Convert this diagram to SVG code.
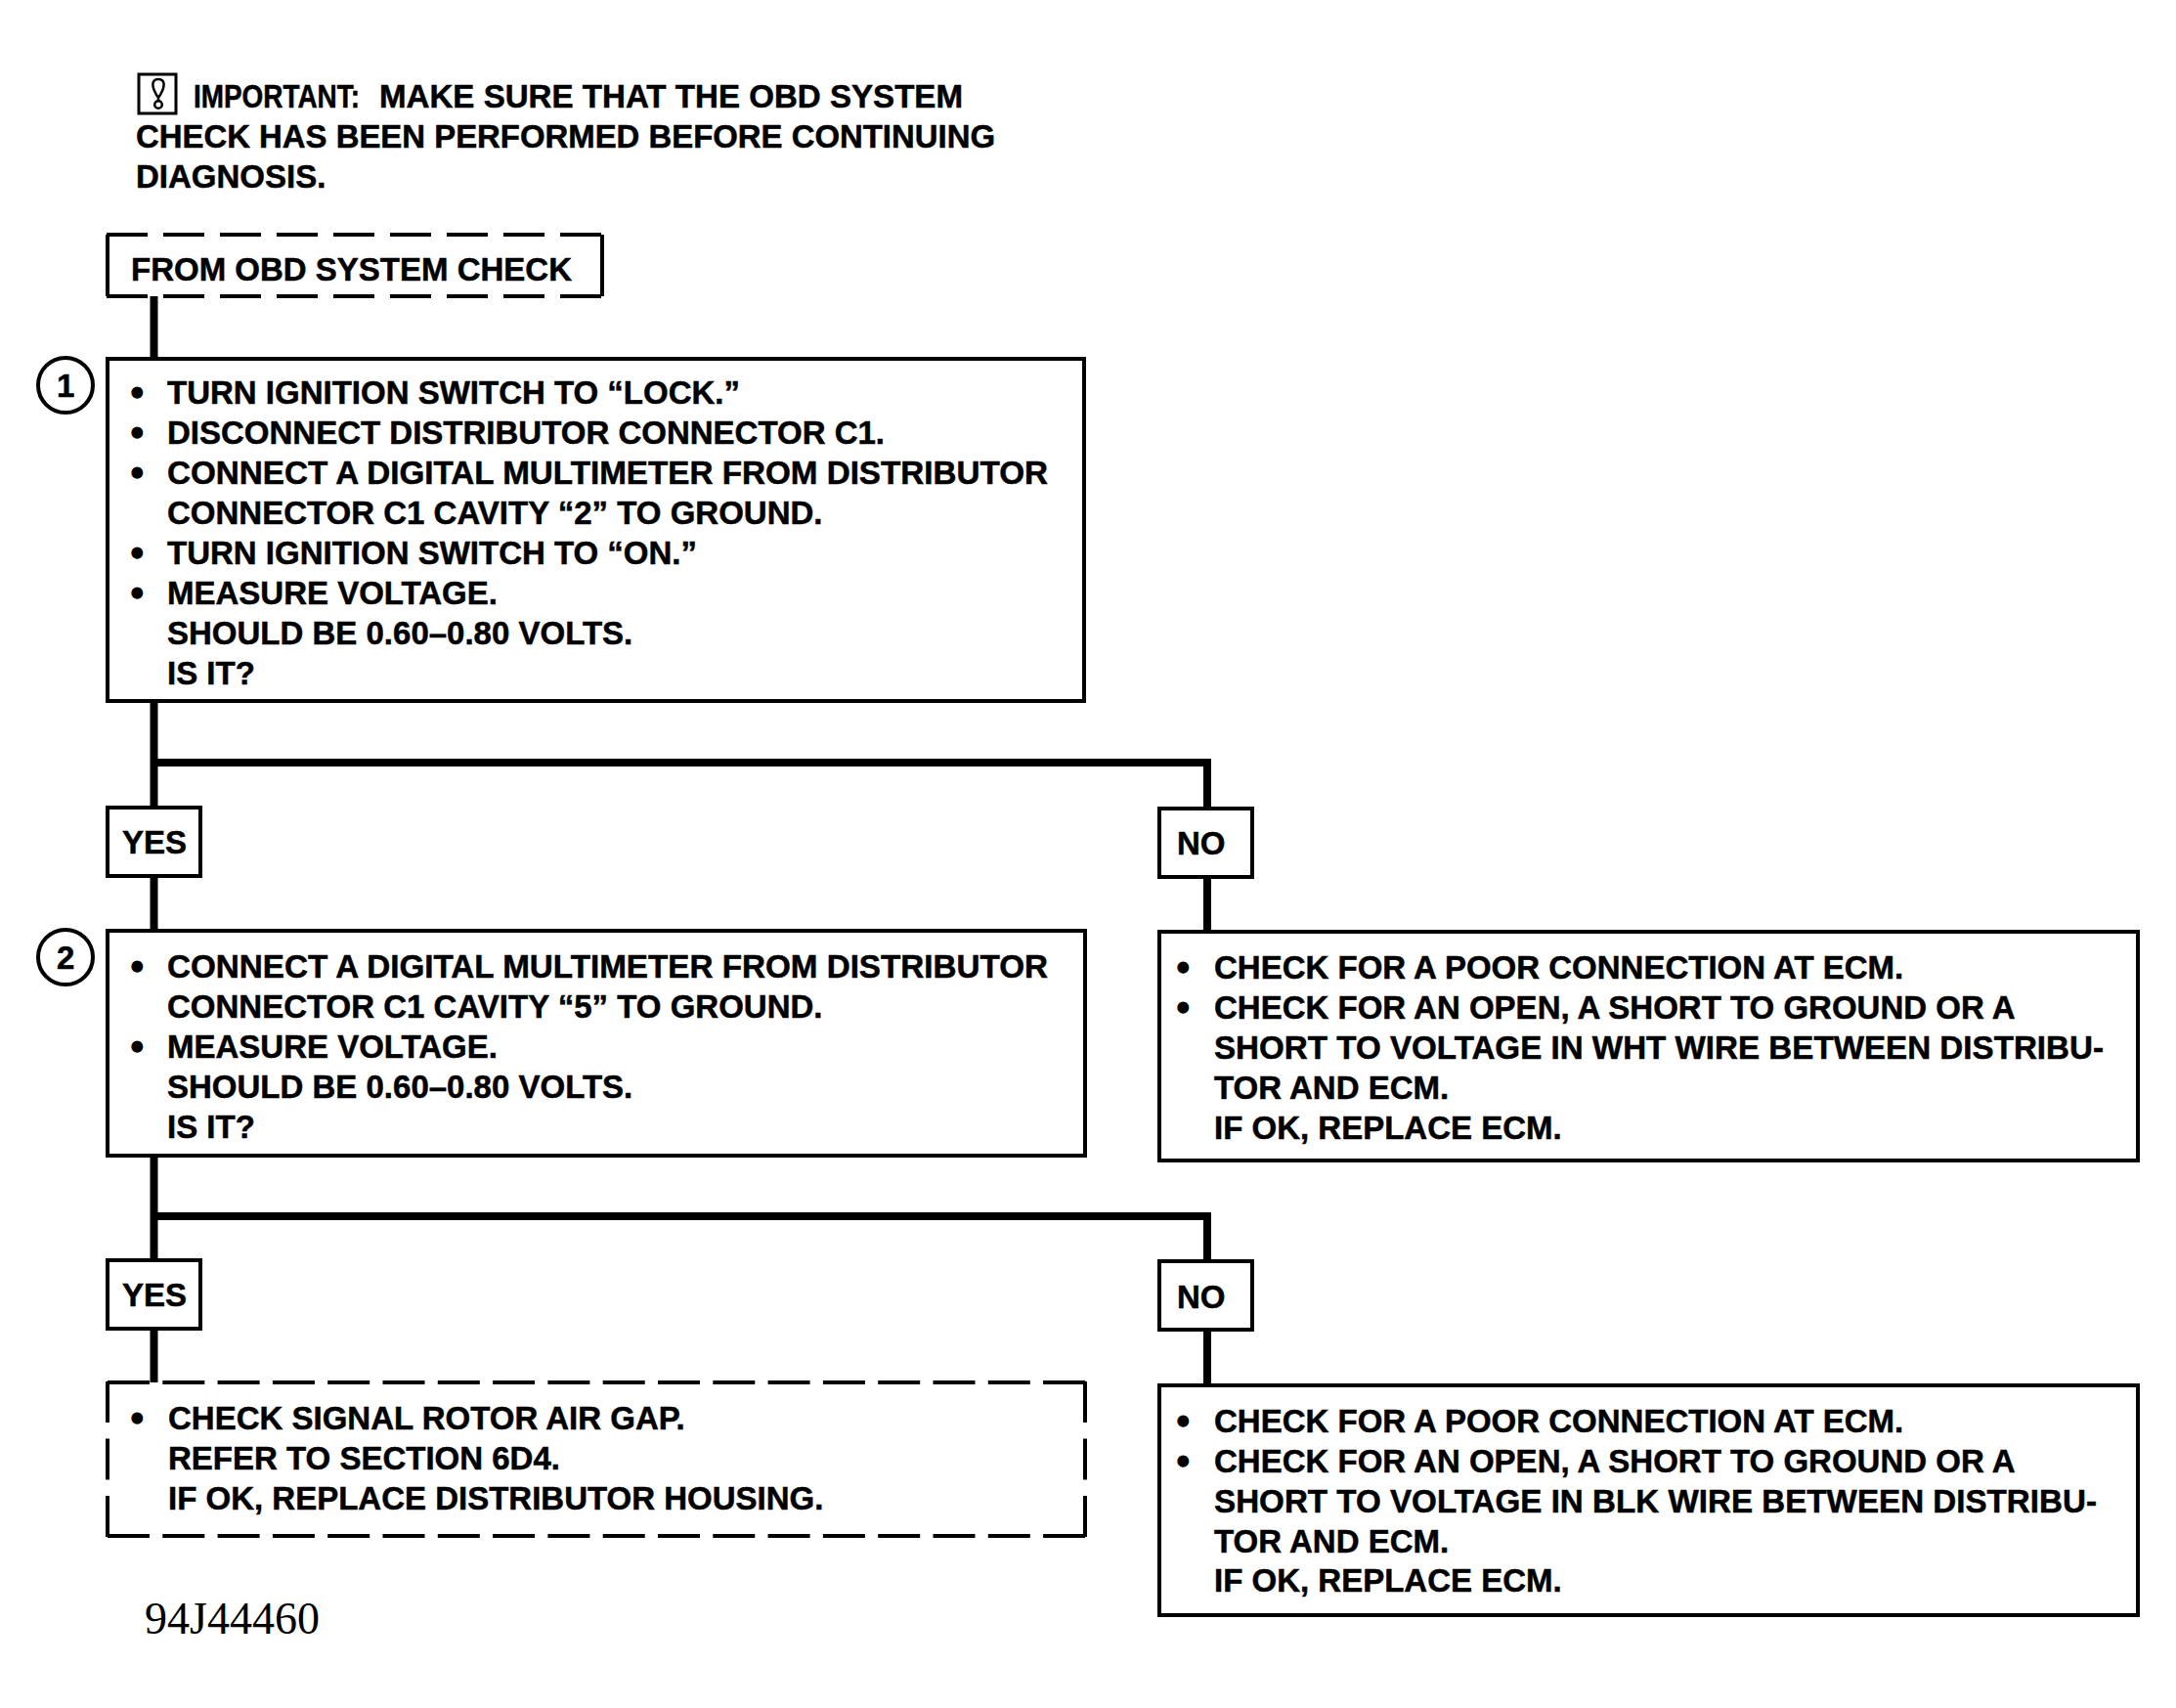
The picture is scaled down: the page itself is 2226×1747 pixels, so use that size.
<svg xmlns="http://www.w3.org/2000/svg" width="2226" height="1747" viewBox="0 0 2226 1747">
<style>
text{font-family:"Liberation Sans",Arial,sans-serif;font-weight:700;font-size:33px;fill:#000;stroke:#000;stroke-width:.5}
.b{font-size:36px;stroke-width:1.500}
.box{fill:#fff;stroke:#000;stroke-width:4}
.bg{fill:#fff}
.edge{fill:none;stroke:#000;stroke-width:4}
.d1{stroke-dasharray:42 16}
.d2{stroke-dasharray:43 13.300}
.d3{stroke-dasharray:42 16.500}
.conn{fill:none;stroke:#000;stroke-width:8}
.ref{font-family:"Liberation Serif",serif;font-weight:400;font-size:46px;stroke:none}
.circ{fill:#fff;stroke:#000;stroke-width:4}
</style>
<rect width="2226" height="1747" fill="#fff"/>
<g id="connectors">
<path class="conn" d="M157.500 303V367M157.500 716V825M157.500 780H1235V827M157.500 896V952M1235 898V953M157.500 1182V1289M157.500 1244H1235V1290M157.500 1360V1415M1235 1361V1417"/>
</g>
<g id="note">
<rect x="142" y="76" width="38" height="40" fill="none" stroke="#000" stroke-width="3"/>
<path d="M162 81C154 81 155 90 162 100C169 90 170 81 162 81ZM162 100V103" fill="none" stroke="#000" stroke-width="2.500"/>
<circle cx="162" cy="107" r="3.800" fill="none" stroke="#000" stroke-width="2.500"/>
<text x="198" y="110" textLength="170" lengthAdjust="spacingAndGlyphs">IMPORTANT:</text><text x="388" y="110" textLength="597" lengthAdjust="spacingAndGlyphs">MAKE SURE THAT THE OBD SYSTEM</text>
<text x="139" y="151" textLength="879" lengthAdjust="spacingAndGlyphs">CHECK HAS BEEN PERFORMED BEFORE CONTINUING</text>
<text x="139" y="192">DIAGNOSIS.</text>
</g>
<g id="from"><rect class="bg" x="110" y="240" width="507" height="63"/>
<path class="edge d1" d="M109 240H617M109 303H617"/><path class="edge" d="M110 240V303M616 240V303"/>
<text x="134" y="287">FROM OBD SYSTEM CHECK</text></g>
<g id="step1-marker"><circle class="circ" cx="67" cy="394" r="28"/><text x="58" y="406">1</text></g>
<g id="step1"><rect class="box" x="110" y="367" width="999" height="350"/>
<text y="413"><tspan class="b" x="134" dy="1">•</tspan><tspan x="171" dy="-1">TURN IGNITION SWITCH TO “LOCK.”</tspan></text>
<text y="454"><tspan class="b" x="134" dy="1">•</tspan><tspan x="171" dy="-1">DISCONNECT DISTRIBUTOR CONNECTOR C1.</tspan></text>
<text y="495"><tspan class="b" x="134" dy="1">•</tspan><tspan x="171" dy="-1" textLength="901" lengthAdjust="spacingAndGlyphs">CONNECT A DIGITAL MULTIMETER FROM DISTRIBUTOR</tspan></text>
<text x="171" y="536">CONNECTOR C1 CAVITY “2” TO GROUND.</text>
<text y="577"><tspan class="b" x="134" dy="1">•</tspan><tspan x="171" dy="-1">TURN IGNITION SWITCH TO “ON.”</tspan></text>
<text y="618"><tspan class="b" x="134" dy="1">•</tspan><tspan x="171" dy="-1">MEASURE VOLTAGE.</tspan></text>
<text x="171" y="659">SHOULD BE 0.60–0.80 VOLTS.</text>
<text x="171" y="700">IS IT?</text></g>
<g id="yes1"><rect class="box" x="110" y="826" width="95" height="70"/><text x="125" y="873">YES</text></g>
<g id="no1"><rect class="box" x="1186" y="827" width="95" height="70"/><text x="1204" y="874">NO</text></g>
<g id="step2-marker"><circle class="circ" cx="67" cy="979" r="28"/><text x="58" y="991">2</text></g>
<g id="step2"><rect class="box" x="110" y="952" width="1000" height="230"/>
<text y="1000"><tspan class="b" x="134" dy="1">•</tspan><tspan x="171" dy="-1" textLength="901" lengthAdjust="spacingAndGlyphs">CONNECT A DIGITAL MULTIMETER FROM DISTRIBUTOR</tspan></text>
<text x="171" y="1041">CONNECTOR C1 CAVITY “5” TO GROUND.</text>
<text y="1082"><tspan class="b" x="134" dy="1">•</tspan><tspan x="171" dy="-1">MEASURE VOLTAGE.</tspan></text>
<text x="171" y="1123">SHOULD BE 0.60–0.80 VOLTS.</text>
<text x="171" y="1164">IS IT?</text></g>
<g id="no1-action"><rect class="box" x="1186" y="953" width="1001" height="234"/>
<text y="1001"><tspan class="b" x="1204" dy="1">•</tspan><tspan x="1242" dy="-1">CHECK FOR A POOR CONNECTION AT ECM.</tspan></text>
<text y="1042"><tspan class="b" x="1204" dy="1">•</tspan><tspan x="1242" dy="-1">CHECK FOR AN OPEN, A SHORT TO GROUND OR A</tspan></text>
<text x="1242" y="1083" textLength="910" lengthAdjust="spacingAndGlyphs">SHORT TO VOLTAGE IN WHT WIRE BETWEEN DISTRIBU-</text>
<text x="1242" y="1124">TOR AND ECM.</text>
<text x="1242" y="1165">IF OK, REPLACE ECM.</text></g>
<g id="yes2"><rect class="box" x="110" y="1289" width="95" height="70"/><text x="125" y="1336">YES</text></g>
<g id="no2"><rect class="box" x="1186" y="1290" width="95" height="70"/><text x="1204" y="1338">NO</text></g>
<g id="yes2-action"><rect class="bg" x="110" y="1414" width="1000" height="157"/>
<path class="edge d2" d="M110 1414H1112M110 1571H1112"/><path class="edge d3" d="M110 1413V1573M1110 1413V1573"/>
<text y="1462"><tspan class="b" x="134" dy="1">•</tspan><tspan x="172" dy="-1">CHECK SIGNAL ROTOR AIR GAP.</tspan></text>
<text x="172" y="1503">REFER TO SECTION 6D4.</text>
<text x="172" y="1544">IF OK, REPLACE DISTRIBUTOR HOUSING.</text></g>
<g id="no2-action"><rect class="box" x="1186" y="1417" width="1001" height="235"/>
<text y="1465"><tspan class="b" x="1204" dy="1">•</tspan><tspan x="1242" dy="-1">CHECK FOR A POOR CONNECTION AT ECM.</tspan></text>
<text y="1506"><tspan class="b" x="1204" dy="1">•</tspan><tspan x="1242" dy="-1">CHECK FOR AN OPEN, A SHORT TO GROUND OR A</tspan></text>
<text x="1242" y="1547" textLength="903" lengthAdjust="spacingAndGlyphs">SHORT TO VOLTAGE IN BLK WIRE BETWEEN DISTRIBU-</text>
<text x="1242" y="1588">TOR AND ECM.</text>
<text x="1242" y="1628">IF OK, REPLACE ECM.</text></g>
<text class="ref" x="148" y="1671">94J44460</text>
</svg>
